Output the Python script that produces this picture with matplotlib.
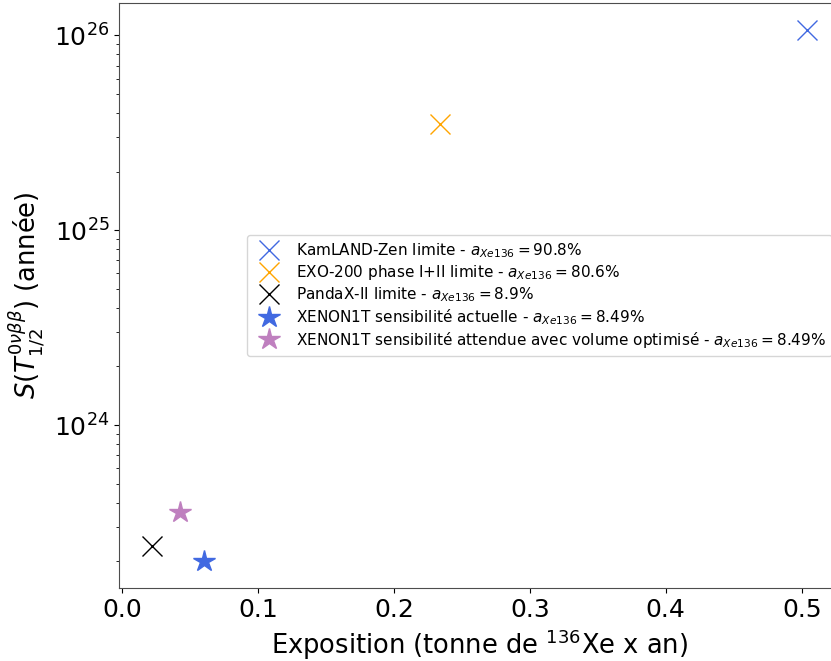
import matplotlib
matplotlib.use("Agg")
import matplotlib.pyplot as plt

# exposition (tonne de 136Xe x an) et sensibilité / limite (années)
experiences = ["KamLAND-Zen", "EXO-200", "PandaX-II", "XENON1T", "XENON1T opt"]
exposition = [0.504, 0.234, 0.022, 0.0607, 0.0424]
demi_vie = [1.07e26, 3.5e25, 2.4e23, 2.0e23, 3.6e23]
labels = [
    r"KamLAND-Zen limite - $a_{Xe136} = 90.8\%$",
    r"EXO-200 phase I+II limite - $a_{Xe136} = 80.6\%$",
    r"PandaX-II limite - $a_{Xe136} = 8.9\%$",
    r"XENON1T sensibilité actuelle - $a_{Xe136} = 8.49\%$",
    r"XENON1T sensibilité attendue avec volume optimisé - $a_{Xe136} = 8.49\%$",
]
marqueurs = ["x", "x", "x", "*", "*"]
couleurs = ["royalblue", "orange", "black", "royalblue", "#bf80bf"]
tailles = [15, 15, 15, 16, 16]

fig = plt.figure(figsize=(8.31, 6.61), dpi=100)
ax = fig.add_axes([119 / 831, 73 / 661, 721 / 831, 585 / 661])

for x, y, lab, m, c, s in zip(exposition, demi_vie, labels, marqueurs, couleurs, tailles):
    ax.plot([x], [y], linestyle="none", marker=m, color=c, markersize=s, label=lab)

ax.set_yscale("log")
ax.tick_params(axis="both", labelsize=18)
ax.set_xlabel(r"Exposition (tonne de $^{136}$Xe x an)", fontsize=18.5)
ax.set_ylabel(r"$S(T^{0\nu\beta\beta}_{1/2})$ (année)", fontsize=18.5)
for sp in ax.spines.values():
    sp.set_color("0.3")

ax.legend(loc="center right", fontsize=11, labelspacing=0.2)

fig.savefig("out.png", dpi=100)
